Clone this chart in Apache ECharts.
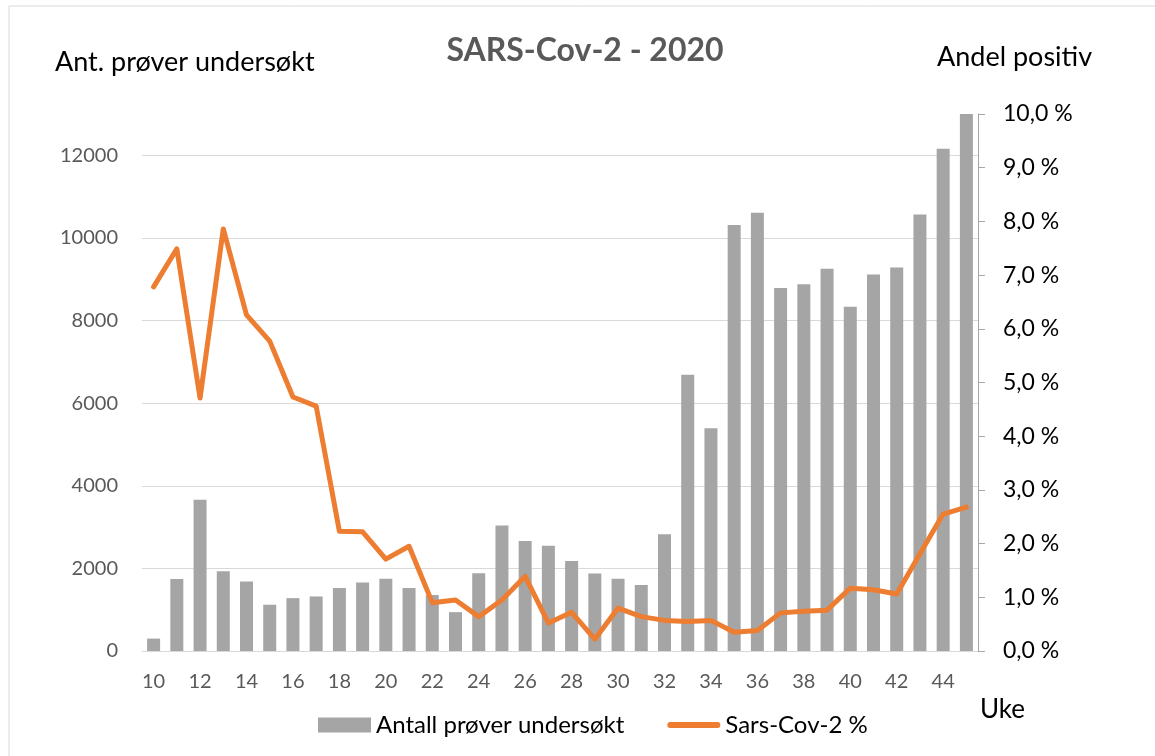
<!DOCTYPE html>
<html><head><meta charset="utf-8">
<script src="https://cdn.jsdelivr.net/npm/echarts@6/dist/echarts.min.js"></script>
<style>html,body{margin:0;padding:0;background:#fff}#c{width:1155px;height:756px}</style>
</head><body><div id="c"></div>
<script>
const weeks = ['10','11','12','13','14','15','16','17','18','19','20','21','22','23','24','25','26','27','28','29','30','31','32','33','34','35','36','37','38','39','40','41','42','43','44','45'];
const samples = [300,1740,3660,1930,1680,1120,1280,1320,1525,1660,1750,1525,1355,940,1885,3040,2665,2550,2180,1875,1750,1595,2825,6690,5390,10315,10610,8790,8880,9255,8335,9115,9285,10565,12160,13000];
const positivePct = [6.78,7.49,4.71,7.86,6.26,5.77,4.73,4.56,2.23,2.22,1.71,1.95,0.90,0.95,0.64,0.95,1.39,0.52,0.72,0.22,0.80,0.64,0.57,0.55,0.57,0.35,0.38,0.71,0.74,0.76,1.17,1.14,1.06,1.81,2.55,2.68];
const F = 'Lato, "Noto Sans", sans-serif';
const chart = echarts.init(document.getElementById('c'));
chart.setOption({
  animation:false,
  backgroundColor:'#fff',
  textStyle:{fontFamily:F},
  grid:{left:142,right:177,top:114,bottom:105,containLabel:false},
  graphic:[
    {type:'rect',shape:{x:9,y:6,width:1160,height:760},style:{fill:'none',stroke:'#D9D9D9',lineWidth:1},silent:true},
    {type:'text',x:585,y:51,style:{text:'SARS-Cov-2 - 2020',font:'bold 32px '+F,fill:'#595959',textAlign:'center',textVerticalAlign:'middle'}},
    {type:'text',x:55,y:62,style:{text:'Ant. prøver undersøkt',font:'27px '+F,fill:'#000',textAlign:'left',textVerticalAlign:'middle'}},
    {type:'text',x:937,y:57,style:{text:'Andel positiv',font:'27px '+F,fill:'#000',textAlign:'left',textVerticalAlign:'middle'}},
    {type:'text',x:980,y:710,style:{text:'Uke',font:'26px '+F,fill:'#000',textAlign:'left',textVerticalAlign:'middle'}}
  ],
  legend:{
    left:313, top:708, itemWidth:53, itemHeight:15, itemGap:43,
    textStyle:{fontSize:24,color:'#000',fontFamily:F},
    data:[{name:'Antall prøver undersøkt',icon:'rect'},{name:'Sars-Cov-2 %',icon:'path://M3,0H52A3,3 0 0 1 52,6H3A3,3 0 0 1 3,0Z'}]
  },
  xAxis:{
    type:'category', data:weeks,
    axisLine:{lineStyle:{color:'#D9D9D9',width:1}},
    axisTick:{show:false},
    axisLabel:{interval:1,color:'#595959',fontSize:20,margin:21,fontFamily:F}
  },
  yAxis:[
    {type:'value',min:0,max:13000,interval:2000,position:'left',
     axisLine:{show:false},axisTick:{show:false},
     axisLabel:{color:'#595959',fontSize:20,margin:24,showMaxLabel:false,fontFamily:F,formatter:v=>String(v)},
     splitLine:{show:true,showMaxLine:false,lineStyle:{color:'#D9D9D9',width:1}}},
    {type:'value',min:0,max:10,interval:1,position:'right',
     axisLine:{show:true,lineStyle:{color:'#A6A6A6',width:1}},
     axisTick:{show:true,length:7,lineStyle:{color:'#A6A6A6'}},
     axisLabel:{color:'#000',fontSize:23,margin:25,fontFamily:F,formatter:v=>v.toFixed(1).replace('.',',')+' %'},
     splitLine:{show:false}}
  ],
  series:[
    {name:'Antall prøver undersøkt',type:'bar',yAxisIndex:0,data:samples,barWidth:13,
     itemStyle:{color:'#A5A5A5'}},
    {name:'Sars-Cov-2 %',type:'line',yAxisIndex:1,data:positivePct,symbol:'none',
     lineStyle:{color:'#ED7D31',width:5,join:'round',cap:'round'},itemStyle:{color:'#ED7D31'}}
  ]
});
</script></body></html>
